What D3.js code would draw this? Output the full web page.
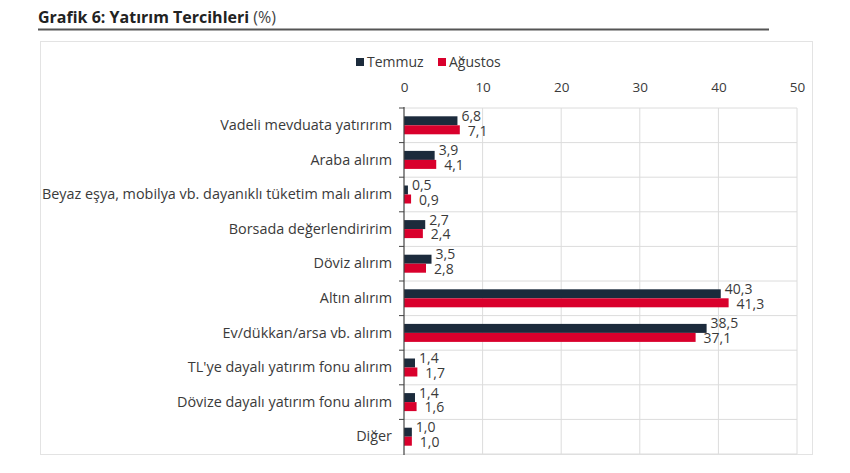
<!DOCTYPE html>
<html>
<head>
<meta charset="utf-8">
<script src="https://cdn.jsdelivr.net/npm/d3@7"></script>
<style>
  body { margin: 0; background: #fff; }
  text { font-family: "Open Sans", sans-serif; }
</style>
</head>
<body>
<svg id="chart" width="850" height="473"></svg>
<script>
var categories = [
  "Vadeli mevduata yatırırım",
  "Araba alırım",
  "Beyaz eşya, mobilya vb. dayanıklı tüketim malı alırım",
  "Borsada değerlendiririm",
  "Döviz alırım",
  "Altın alırım",
  "Ev/dükkan/arsa vb. alırım",
  "TL'ye dayalı yatırım fonu alırım",
  "Dövize dayalı yatırım fonu alırım",
  "Diğer"
];
var series = ["Temmuz", "Ağustos"];
var temmuz = [6.8, 3.9, 0.5, 2.7, 3.5, 40.3, 38.5, 1.4, 1.4, 1.0];
var agustos = [7.1, 4.1, 0.9, 2.4, 2.8, 41.3, 37.1, 1.7, 1.6, 1.0];
var xTicks = [0, 10, 20, 30, 40, 50];

var colors = { "Temmuz": "#1c2b3c", "Ağustos": "#d9002c" };
var textColor = "#3a3a3a";

var svg = d3.select("#chart");

// title
var title = svg.append("text")
  .attr("x", 38)
  .attr("y", 23)
  .style("font-size", "16px")
  .style("fill", "#222");
title.append("tspan").style("font-weight", "bold").text("Grafik 6: Yatırım Tercihleri");
title.append("tspan").style("fill", "#444").text(" (%)");

svg.append("line")
  .attr("x1", 38).attr("x2", 769)
  .attr("y1", 29.5).attr("y2", 29.5)
  .style("stroke", "#555")
  .style("stroke-width", 2);

// frame
svg.append("rect")
  .attr("x", 40.5).attr("y", 41.5)
  .attr("width", 772).attr("height", 413)
  .style("fill", "#fff")
  .style("stroke", "#e3e3e3");

var plotLeft = 404, plotRight = 797, plotTop = 108, plotBottom = 454;

var xScale = d3.scaleLinear().domain([0, 50]).range([plotLeft, plotRight]);
var yScale = d3.scaleBand().domain(categories).range([plotTop, plotBottom]).padding(0);
var step = yScale.step();
var sScale = d3.scaleBand().domain(series)
  .range([(step - 18) / 2, (step + 18) / 2]);

var g = svg.append("g");

// gridlines
g.selectAll("line.vgrid")
  .data(xTicks.slice(1))
  .enter()
  .append("line")
  .attr("class", "vgrid")
  .attr("x1", function (d) { return xScale(d); })
  .attr("x2", function (d) { return xScale(d); })
  .attr("y1", plotTop).attr("y2", plotBottom)
  .style("stroke", "#dcdcdc");

var bounds = categories.map(function (c) { return yScale(c); }).concat([plotBottom]);
g.selectAll("line.hgrid")
  .data(bounds)
  .enter()
  .append("line")
  .attr("class", "hgrid")
  .attr("x1", plotLeft).attr("x2", plotRight)
  .attr("y1", function (d) { return d; })
  .attr("y2", function (d) { return d; })
  .style("stroke", "#dcdcdc");

// x axis on top
var xAxis = d3.axisTop(xScale).tickValues(xTicks).tickSize(0).tickPadding(0);
var xa = svg.append("g")
  .attr("transform", "translate(0," + 82 + ")")
  .call(xAxis);
xa.select(".domain").remove();
xa.selectAll("text")
  .style("font-size", "13.5px")
  .style("fill", textColor)
  .attr("dy", "0.35em")
  .attr("y", 5);

// bars
var rows = categories.map(function (c, i) {
  return { cat: c, values: [
    { key: "Temmuz", value: temmuz[i] },
    { key: "Ağustos", value: agustos[i] }
  ] };
});

var groups = g.selectAll("g.row")
  .data(rows)
  .enter()
  .append("g")
  .attr("class", "row")
  .attr("transform", function (d) { return "translate(0," + yScale(d.cat) + ")"; });

groups.selectAll("rect")
  .data(function (d) { return d.values; })
  .enter()
  .append("rect")
  .attr("x", xScale(0))
  .attr("y", function (d) { return sScale(d.key); })
  .attr("width", function (d) { return xScale(d.value) - xScale(0); })
  .attr("height", sScale.bandwidth())
  .style("fill", function (d) { return colors[d.key]; });

groups.selectAll("text.val")
  .data(function (d) { return d.values; })
  .enter()
  .append("text")
  .attr("class", "val")
  .attr("x", function (d) { return xScale(d.value) + (d.key === "Temmuz" ? 4 : 8); })
  .attr("y", function (d) {
    return sScale(d.key) + sScale.bandwidth() / 2 + (d.key === "Temmuz" ? -5 : 1);
  })
  .attr("dy", "0.35em")
  .style("font-size", "14px")
  .style("fill", textColor)
  .text(function (d) { return d3.format(".1f")(d.value).replace(".", ","); });

// left axis
var yAxis = d3.axisLeft(yScale).tickSize(0).tickPadding(12);
var ya = svg.append("g")
  .attr("transform", "translate(" + plotLeft + ",0)")
  .call(yAxis);
ya.select(".domain").remove();
ya.selectAll("text")
  .style("font-size", "14.4px")
  .style("fill", textColor);

svg.append("line")
  .attr("x1", plotLeft).attr("x2", plotLeft)
  .attr("y1", plotTop - 1).attr("y2", plotBottom + 1)
  .style("stroke", "#444")
  .style("stroke-width", 1.2);

svg.selectAll("line.ytick")
  .data(bounds.slice(0, categories.length))
  .enter()
  .append("line")
  .attr("class", "ytick")
  .attr("x1", plotLeft - 5).attr("x2", plotLeft)
  .attr("y1", function (d) { return d; })
  .attr("y2", function (d) { return d; })
  .style("stroke", "#444");

// legend
var legend = svg.append("g").attr("transform", "translate(356,62)");
var legX = [0, 82];
series.forEach(function (s, i) {
  var item = legend.append("g").attr("transform", "translate(" + legX[i] + ",0)");
  item.append("rect")
    .attr("x", 0).attr("y", -4)
    .attr("width", 8).attr("height", 8)
    .style("fill", colors[s]);
  item.append("text")
    .attr("x", 11).attr("y", 0)
    .attr("dy", "0.35em")
    .style("font-size", "14px")
    .style("fill", textColor)
    .text(s);
});
</script>
</body>
</html>
